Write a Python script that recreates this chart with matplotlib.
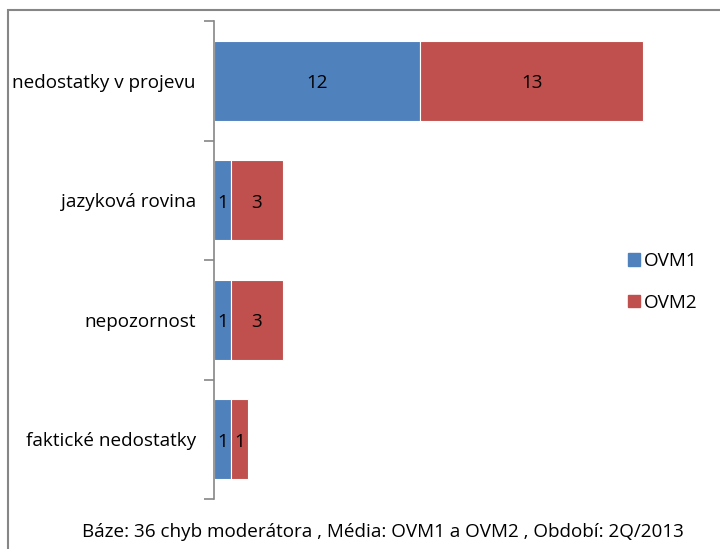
import matplotlib
matplotlib.use('Agg')
import matplotlib.pyplot as plt
from matplotlib.patches import Rectangle, Patch

plt.rcParams['font.family'] = ['Open Sans', 'DejaVu Sans']

# data
categories = ['nedostatky v projevu', 'jazyková rovina', 'nepozornost', 'faktické nedostatky']
ovm1 = [12, 1, 1, 1]
ovm2 = [13, 3, 3, 1]
series_names = ['OVM1', 'OVM2']
footer = 'Báze: 36 chyb moderátora , Média: OVM1 a OVM2 , Období: 2Q/2013'

COLORS = {
    'ovm1': '#4F81BD',
    'ovm2': '#C0504D',
    'axis': '#868686',
    'text': '#000000',
}
FS = 13.6

W, H = 720, 549
fig = plt.figure(figsize=(W / 100, H / 100), dpi=100)
fig.patch.set_facecolor('white')

# outer frame (cut off at right/bottom like the original)
frame = Rectangle((8 / W, -0.1), 1.1, 1 - 10 / H + 0.1,
                  transform=fig.transFigure, fill=False,
                  edgecolor=COLORS['axis'], linewidth=1.5, clip_on=False)
fig.patches.append(frame)

ax = fig.add_axes([214 / W, 50 / H, (W - 214) / W, 478 / H])
ypos = list(range(len(categories)))
px_per_unit = 17.17
ax.set_xlim(0, (W - 214) / px_per_unit)
ax.set_ylim(len(categories) - 0.5, -0.5)

b1 = ax.barh(ypos, ovm1, height=0.67, color=COLORS['ovm1'],
             edgecolor='white', linewidth=0.8, label=series_names[0])
b2 = ax.barh(ypos, ovm2, left=ovm1, height=0.67, color=COLORS['ovm2'],
             edgecolor='white', linewidth=0.8, label=series_names[1])

for bars in (b1, b2):
    for bar in bars:
        w = bar.get_width()
        ax.text(bar.get_x() + w / 2, bar.get_y() + bar.get_height() / 2 + 0.02,
                f'{int(w)}', ha='center', va='center', fontsize=FS,
                color=COLORS['text'])

for s in ['top', 'right', 'bottom']:
    ax.spines[s].set_visible(False)
ax.spines['left'].set_color(COLORS['axis'])
ax.spines['left'].set_linewidth(1.2)
ax.set_xticks([])

ax.set_yticks(ypos)
ax.set_yticklabels(categories, fontsize=FS)
ax.tick_params(axis='y', which='major', length=0, pad=13)
ax.set_yticks([i - 0.5 for i in range(len(categories) + 1)], minor=True)
ax.tick_params(axis='y', which='minor', length=7, width=1.2,
               color=COLORS['axis'])

handles = [Patch(color=COLORS['ovm1']), Patch(color=COLORS['ovm2'])]
fig.legend(handles, series_names, loc='center left',
           bbox_to_anchor=(611 / W, 1 - 282 / H), frameon=False,
           fontsize=FS, handlelength=0.62, handleheight=0.62,
           handletextpad=0.2, labelspacing=1.25)

fig.text(383 / W, 1 - 532 / H, footer, ha='center', va='center', fontsize=FS)

fig.savefig('out.png', dpi=100, facecolor='white')
